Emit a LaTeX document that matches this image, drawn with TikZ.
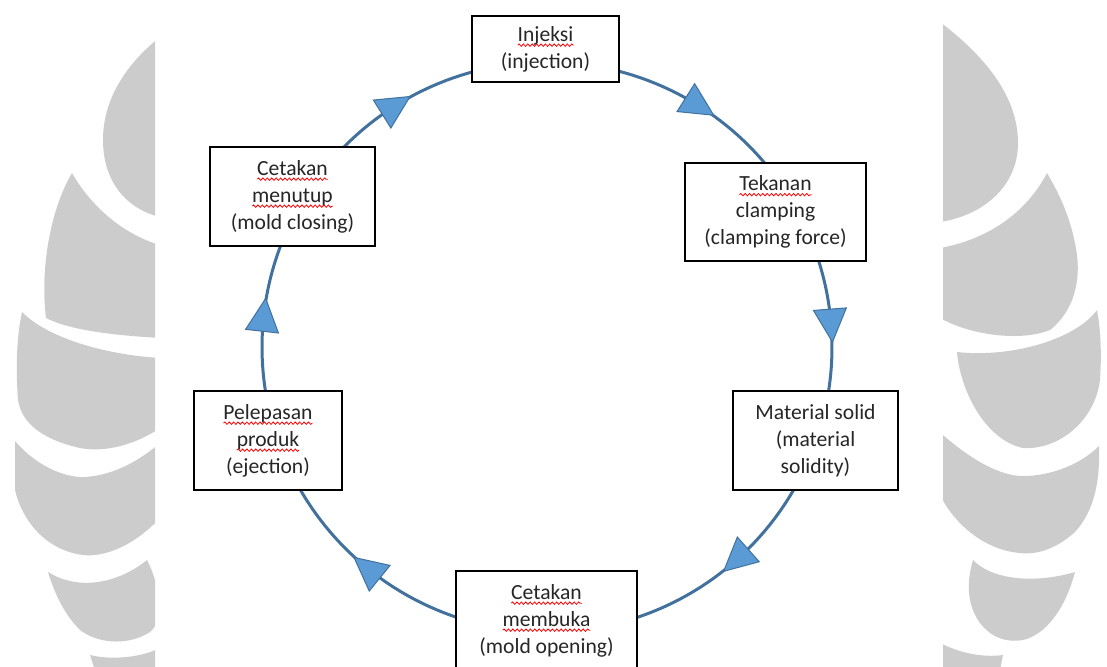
\documentclass[tikz,border=0pt]{standalone}
\usepackage{fontspec}
\setmainfont{Carlito}
\usetikzlibrary{calc,decorations.markings,decorations.pathmorphing}
\definecolor{ringblue}{RGB}{65,113,156}
\definecolor{headblue}{RGB}{91,155,213}
\definecolor{wmgray}{RGB}{204,204,204}
% red spell-check wave under a word
\newcommand\spl[1]{\tikz[baseline=(w.base), x=1pt, y=1pt]{\node[draw=none, fill=none, inner sep=0pt, outer sep=0pt,
    minimum width=0pt, minimum height=0pt, anchor=center] (w) {#1};
  \draw[red, line width=0.4pt, decorate, decoration={snake, amplitude=0.6pt, segment length=2.2pt}] ([yshift=-2pt]w.base west) -- ([yshift=-2pt]w.base east);}}
\tikzset{
  stepbox/.style={draw=black, line width=0.6pt, fill=white, align=center, inner sep=0pt,
    text=black!85, font=\fontsize{10.8}{13.5}\selectfont},
  ring/.style={draw=ringblue, line width=1.5pt},
  wm/.style={fill=wmgray}
}

\begin{document}
\begin{tikzpicture}[x=0.5pt,y=-0.5pt]
    \useasboundingbox (0,0) rectangle (1107,666);

    % watermark, left half
    \begin{scope}
      \clip (0,0) rectangle (155,666);
      \fill[wm] (160,37) .. controls (125,65) and (103,100) .. (103,140) .. controls (103,185) and (130,210) .. (160,217) -- cycle;
      \fill[wm] (72,173) .. controls (92,208) and (125,235) .. (160,245) -- (160,338) .. controls (110,335) and (70,330) .. (46,318) .. controls (40,270) and (50,210) .. (72,173) -- cycle;
      \fill[wm] (22,312) .. controls (50,340) and (110,355) .. (160,358) -- (160,428) .. controls (130,448) and (100,452) .. (80,448) .. controls (45,440) and (22,425) .. (18,400) .. controls (15,360) and (18,330) .. (22,312) -- cycle;
      \fill[wm] (15,441) .. controls (40,470) and (70,478) .. (85,477) .. controls (115,475) and (140,460) .. (160,443) -- (160,518) .. controls (130,550) and (100,557) .. (83,555) .. controls (45,550) and (22,520) .. (15,490) -- cycle;
      \fill[wm] (48,572) .. controls (80,592) and (120,582) .. (147,560) .. controls (160,585) and (165,620) .. (150,632) .. controls (130,645) and (100,645) .. (80,630) .. controls (65,615) and (55,595) .. (48,572) -- cycle;
      \fill[wm] (90,655) .. controls (110,660) and (140,658) .. (160,648) -- (160,670) -- (95,670) -- cycle;
    \end{scope}

    % watermark, right half
    \begin{scope}
      \clip (943,0) rectangle (1107,666);
      \fill[wm] (940,22) .. controls (990,60) and (1018,100) .. (1018,143) .. controls (1018,185) and (985,215) .. (940,222) -- cycle;
      \fill[wm] (1047,173) .. controls (1025,215) and (985,240) .. (940,248) -- (940,318) .. controls (970,335) and (1020,342) .. (1050,330) .. controls (1075,310) and (1080,280) .. (1077,255) .. controls (1072,220) and (1060,195) .. (1047,173) -- cycle;
      \fill[wm] (1097,310) .. controls (1075,340) and (1010,358) .. (957,352) .. controls (960,390) and (985,440) .. (1023,448) .. controls (1060,450) and (1095,420) .. (1100,380) .. controls (1102,350) and (1100,325) .. (1097,310) -- cycle;
      \fill[wm] (935,428) .. controls (970,460) and (1000,476) .. (1023,476) .. controls (1050,476) and (1080,465) .. (1099,446) .. controls (1100,480) and (1095,510) .. (1075,532) .. controls (1055,550) and (1035,555) .. (1020,553) .. controls (985,550) and (955,525) .. (940,495) -- cycle;
      \fill[wm] (973,560) .. controls (990,578) and (1030,585) .. (1075,572) .. controls (1065,610) and (1045,635) .. (1023,640) .. controls (995,645) and (975,625) .. (970,600) .. controls (967,585) and (970,570) .. (973,560) -- cycle;
      \fill[wm] (935,640) .. controls (955,652) and (980,658) .. (1003,655) -- (1000,670) -- (935,670) -- cycle;
    \end{scope}

    % the cycle, one arc per step
    \coordinate (O) at (547,347);
    \foreach \a/\b/\p in {-90/-30.6/0.544, -30.6/19.2/0.526, 19.2/90/0.412, 90/161.5/0.547, 161.5/210.6/0.507, 210.6/270/0.46}
        \draw[ring, postaction={decorate}, decoration={markings, mark=at position \p with
          {\filldraw[fill=headblue, draw=ringblue, line width=0.5pt] (-8pt,-8.25pt) -- (8.5pt,0pt) -- (-8pt,8.25pt) -- cycle;}}]
          ($(O)+(\a:285)$) arc[start angle=\a, end angle=\b, radius=285];

    % the steps
    \node[stepbox, minimum width=73.5pt, minimum height=33pt] (inj) at (545.5,49) {\spl{Injeksi}\\(injection)};
    \node[stepbox, minimum width=90.5pt, minimum height=49pt] (tek) at (775.5,212) {\spl{Tekanan}\\clamping\\(clamping force)};
    \node[stepbox, minimum width=82.5pt, minimum height=49.5pt] (mat) at (815.5,440.5) {Material solid\\(material\\solidity)};
    \node[stepbox, minimum width=90.5pt, minimum height=49.5pt] (buk) at (546.5,620.5) {\spl{Cetakan}\\\spl{membuka}\\(mold opening)};
    \node[stepbox, minimum width=74pt, minimum height=49.5pt] (pel) at (268,440.5) {\spl{Pelepasan}\\\spl{produk}\\(ejection)};
    \node[stepbox, minimum width=82.5pt, minimum height=49.5pt] (men) at (292.5,196.5) {\spl{Cetakan}\\\spl{menutup}\\(mold closing)};
\end{tikzpicture}
\end{document}
